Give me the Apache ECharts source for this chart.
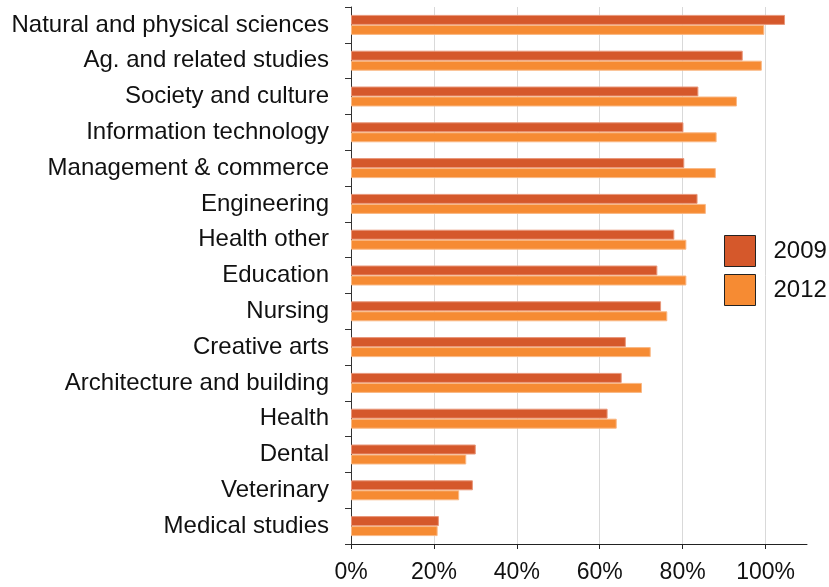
<!DOCTYPE html>
<html>
<head>
<meta charset="utf-8">
<script src="https://cdn.jsdelivr.net/npm/echarts@6/dist/echarts.min.js"></script>
<style>html,body{margin:0;padding:0;background:#fff}#c{width:829px;height:587px}</style>
</head>
<body>
<div id="c"></div>
<script>
const categories = ["Natural and physical sciences","Ag. and related studies","Society and culture","Information technology","Management & commerce","Engineering","Health other","Education","Nursing","Creative arts","Architecture and building","Health","Dental","Veterinary","Medical studies"];
const values2009 = [104.7,94.5,83.8,80.2,80.4,83.6,78.0,73.9,74.8,66.3,65.3,61.9,30.1,29.4,21.2];
const values2012 = [99.7,99.1,93.1,88.2,88.0,85.6,80.9,80.9,76.3,72.3,70.2,64.1,27.8,26.1,20.9];
const xTicks = [0,20,40,60,80,100];
const seriesNames = ["2009","2012"];

const chart = echarts.init(document.getElementById('c'), null, {renderer:'canvas'});
const font = 'Liberation Sans, Arial, sans-serif';
chart.setOption({
  animation:false,
  backgroundColor:'#fff',
  grid:{left:351,right:22,top:7,bottom:43,containLabel:false},
  legend:{
    orient:'vertical', left:724, top:235, padding:0, itemWidth:31, itemHeight:31, itemGap:7,
    icon:'rect',
    itemStyle:{borderColor:'#222',borderWidth:1},
    textStyle:{fontFamily:font,fontSize:24,color:'#111',padding:[0,0,0,13]},
    data:seriesNames
  },
  xAxis:{
    type:'value', min:0, max:110, interval:20,
    axisLine:{show:true,lineStyle:{color:'#222',width:1}},
    axisTick:{show:true,length:5,lineStyle:{color:'#222'},customValues:xTicks},
    axisLabel:{fontFamily:font,fontSize:23,color:'#111',margin:17,formatter:v=>v+'%',customValues:xTicks},
    splitLine:{show:true,lineStyle:{color:'#d9d9d9',width:1}}
  },
  yAxis:{
    type:'category', inverse:true, data:categories,
    axisLine:{show:true,lineStyle:{color:'#333',width:1}},
    axisTick:{show:true,length:6,lineStyle:{color:'#333'}},
    axisLabel:{fontFamily:font,fontSize:24,color:'#111',margin:22},
    splitLine:{show:false}
  },
  series:[
    {name:seriesNames[0],type:'bar',data:values2009,barWidth:10,barGap:'0%',
     itemStyle:{color:'#D5582B',borderColor:'#E8977A',borderWidth:1}},
    {name:seriesNames[1],type:'bar',data:values2012,barWidth:10,barGap:'0%',
     itemStyle:{color:'#F68B33',borderColor:'#F9B885',borderWidth:1}}
  ]
});
</script>
</body>
</html>
